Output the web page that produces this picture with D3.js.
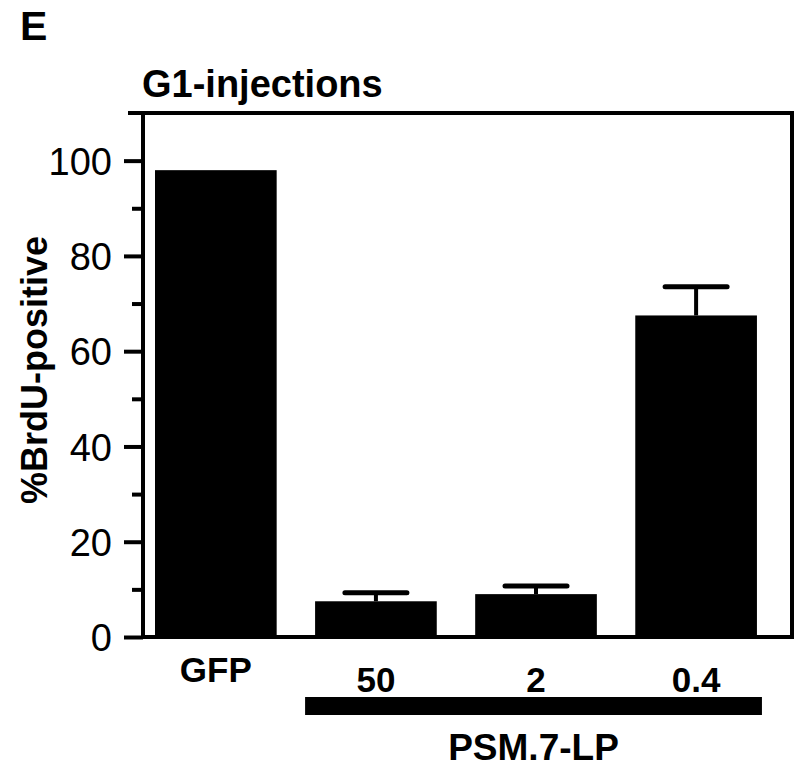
<!DOCTYPE html>
<html>
<head>
<meta charset="utf-8">
<script src="https://cdn.jsdelivr.net/npm/d3@7"></script>
<style>
  body { margin: 0; background: #fff; }
  text { font-family: "Liberation Sans", Arial, sans-serif; fill: #000; }
</style>
</head>
<body>
<div id="chart"></div>
<script>
const categories = ["GFP", "50", "2", "0.4"];
const values = [98, 7.5, 9, 67.5];
const errors = [0, 1.8, 1.7, 6];
const yTicks = [0, 20, 40, 60, 80, 100];
const yMinorTicks = [10, 30, 50, 70, 90];

const width = 800, height = 769;
const svg = d3.select("#chart").append("svg")
  .attr("width", width).attr("height", height);

const x = d3.scaleBand()
  .domain(categories)
  .range([143, 792])
  .paddingInner(0.24)
  .paddingOuter(0.147)
  .align(0.255);

const y = d3.scaleLinear().domain([0, 110]).range([637, 113]);

// panel letter and title
svg.append("text").attr("x", 20).attr("y", 40)
  .style("font-size", "41px").style("font-weight", "bold").text("E");
svg.append("text").attr("x", 142).attr("y", 97)
  .style("font-size", "38px").style("font-weight", "bold").text("G1-injections");

// bars
svg.selectAll("rect.bar")
  .data(categories)
  .join("rect")
  .attr("class", "bar")
  .attr("x", d => x(d))
  .attr("width", x.bandwidth())
  .attr("y", (d, i) => y(values[i]))
  .attr("height", (d, i) => y(0) - y(values[i]))
  .attr("fill", "#000");

// error bars (upper only)
const eb = svg.selectAll("g.err")
  .data(categories.filter((d, i) => errors[i] > 0))
  .join("g").attr("class", "err");
eb.append("line")
  .attr("x1", d => x(d) + x.bandwidth() / 2)
  .attr("x2", d => x(d) + x.bandwidth() / 2)
  .attr("y1", d => y(values[categories.indexOf(d)]))
  .attr("y2", d => y(values[categories.indexOf(d)] + errors[categories.indexOf(d)]))
  .attr("stroke", "#000").attr("stroke-width", 4);
eb.append("line")
  .attr("x1", d => x(d) + x.bandwidth() / 2 - 31)
  .attr("x2", d => x(d) + x.bandwidth() / 2 + 31)
  .attr("y1", d => y(values[categories.indexOf(d)] + errors[categories.indexOf(d)]))
  .attr("y2", d => y(values[categories.indexOf(d)] + errors[categories.indexOf(d)]))
  .attr("stroke", "#000").attr("stroke-width", 5).attr("stroke-linecap", "round");

// frame
const [x0, x1] = x.range();
svg.append("rect")
  .attr("x", x0).attr("y", y(110))
  .attr("width", x1 - x0).attr("height", y(0) - y(110))
  .attr("fill", "none").attr("stroke", "#000").attr("stroke-width", 4);
svg.append("line").attr("x1", 128).attr("x2", x0)
  .attr("y1", y(110)).attr("y2", y(110))
  .attr("stroke", "#000").attr("stroke-width", 4);

// y axis
const yAxis = svg.append("g")
  .attr("transform", `translate(${x0},0)`)
  .call(d3.axisLeft(y).tickValues(yTicks).tickSize(19).tickPadding(12).tickFormat(d3.format("d")));
yAxis.select(".domain").remove();
yAxis.selectAll(".tick line").attr("stroke-width", 4);
yAxis.selectAll(".tick text")
  .style("font-size", "38px").style("font-family", "'Liberation Sans', Arial, sans-serif")
  .attr("dy", "0.36em");
svg.append("g")
  .attr("transform", `translate(${x0},0)`)
  .call(d3.axisLeft(y).tickValues(yMinorTicks).tickSize(11).tickFormat(""))
  .call(g => g.select(".domain").remove())
  .selectAll(".tick line").attr("stroke-width", 4);

svg.append("text")
  .attr("transform", "translate(47,370) rotate(-90)")
  .attr("text-anchor", "middle")
  .style("font-size", "36px").style("font-weight", "bold")
  .text("%BrdU-positive");

// x labels
svg.selectAll("text.xl")
  .data(categories)
  .join("text").attr("class", "xl")
  .attr("x", d => x(d) + x.bandwidth() / 2)
  .attr("y", d => d === "GFP" ? 682 : 692)
  .attr("text-anchor", "middle")
  .style("font-size", "35px").style("font-weight", "bold")
  .text(d => d);

// group bracket bar
const grp = categories.slice(1);
const gx0 = x(grp[0]) - 10;
const gx1 = x(grp[grp.length - 1]) + x.bandwidth() + 5;
svg.append("rect")
  .attr("x", gx0).attr("y", 697)
  .attr("width", gx1 - gx0).attr("height", 18)
  .attr("fill", "#000");
svg.append("text")
  .attr("x", (gx0 + gx1) / 2).attr("y", 760)
  .attr("text-anchor", "middle")
  .style("font-size", "37px").style("font-weight", "bold")
  .text("PSM.7-LP");
</script>
</body>
</html>
